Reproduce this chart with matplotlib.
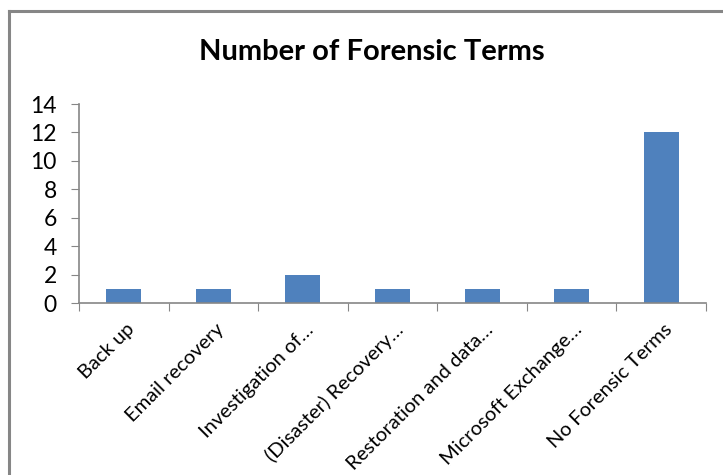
import matplotlib.pyplot as plt
from matplotlib.lines import Line2D
from matplotlib.transforms import ScaledTranslation
import numpy as np

categorias = ["Back up", "Email recovery", "Investigation of…", "(Disaster) Recovery…",
              "Restoration and data…", "Microsoft Exchange…", "No Forensic Terms"]
valores = [1, 1, 2, 1, 1, 1, 12]
yticks = [0, 2, 4, 6, 8, 10, 12, 14]

plt.rcParams['font.family'] = ['Lato', 'DejaVu Sans']

fig = plt.figure(figsize=(7.23, 4.75), dpi=100)
ax = fig.add_axes([0.1093, 0.362, 0.8672, 0.419])

x = np.arange(len(categorias))
ax.bar(x, valores, width=0.39, color='#4f81bd', zorder=2)

ax.set_xlim(-0.5, len(categorias) - 0.5)
ax.set_ylim(0, 14)
ax.set_yticks(yticks)
ax.set_yticklabels([str(v) for v in yticks], fontsize=16.5)

# ticks entre categorias
ax.set_xticks(np.arange(-0.5, len(categorias), 1.0))
ax.set_xticklabels([])
ax.set_xticks(x, minor=True)
ax.set_xticklabels(categorias, minor=True, rotation=45, ha='right', va='center',
                   rotation_mode='anchor', fontsize=14.5)
ax.tick_params(axis='x', which='minor', length=0, pad=17)
ax.tick_params(axis='x', which='major', length=6, color='#868686', direction='out')
ax.tick_params(axis='y', length=6, color='#868686', direction='out', pad=10)

# mover un poco las etiquetas a la derecha
desplazamiento = ScaledTranslation(0.08, 0, fig.dpi_scale_trans)
for lab in ax.get_xticklabels(minor=True):
    lab.set_transform(lab.get_transform() + desplazamiento)

for s in ['top', 'right']:
    ax.spines[s].set_visible(False)
for s in ['left', 'bottom']:
    ax.spines[s].set_color('#868686')
    ax.spines[s].set_linewidth(1.2)

fig.text(0.5145, 0.89, "Number of Forensic Terms", ha='center', va='center',
         fontsize=21, fontweight='bold')

# marco del grafico (recortado)
fig.add_artist(Line2D([9/723, 1], [1 - 11/475, 1 - 11/475], color='#868686', lw=2.2,
                      transform=fig.transFigure))
fig.add_artist(Line2D([9/723, 9/723], [0, 1 - 11/475], color='#868686', lw=2.2,
                      transform=fig.transFigure))

fig.savefig('out.png', dpi=100)
